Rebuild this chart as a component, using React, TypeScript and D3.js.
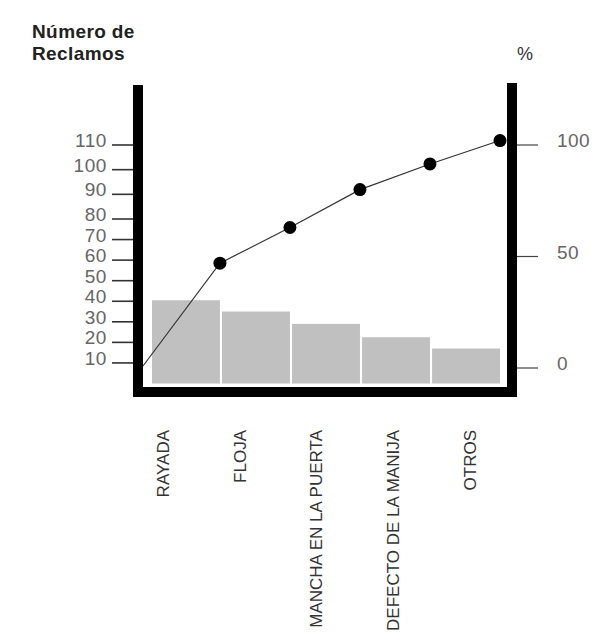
import React from "react";
import * as d3 from "d3";

const categories = ["RAYADA", "FLOJA", "MANCHA EN LA PUERTA", "DEFECTO DE LA MANIJA", "OTROS"];
const counts = [40.5, 35, 29, 22.5, 17];
const cumulativePct = [47, 63, 80, 91.5, 102];
const leftTicks = [10, 20, 30, 40, 50, 60, 70, 80, 90, 100, 110];
const rightTicks = [0, 50, 100];

const W = 603;
const H = 643;
const FONT = "'Liberation Sans', Arial, Helvetica, sans-serif";

export default function App() {
  // layout
  const leftAxisX = 133;
  const rightAxisX = 507;
  const axisW = 10;
  const frameBottom = 397;

  const yLeft = d3.scaleLinear().domain([0, 80, 110]).range([383.5, 219, 145]);
  const yRight = d3.scaleLinear().domain([0, 100]).range([368, 145]);
  const x = d3.scaleBand<string>().domain(categories).range([152, 500]).paddingInner(0.03).paddingOuter(0);
  const xLabel = d3.scalePoint<string>().domain(categories).range([163, 470]);

  const linePts: [number, number][] = [[leftAxisX + axisW, yRight(0) - 2]];
  categories.forEach((c, i) => {
    linePts.push([(x(c) as number) + x.bandwidth(), yRight(cumulativePct[i])]);
  });
  const line = d3.line();

  return (
    <svg
      width={W}
      height={H}
      viewBox={`0 0 ${W} ${H}`}
      style={{ position: "absolute", left: 0, top: 0, background: "#fff" }}
      fontFamily={FONT}
    >
      <rect x={0} y={0} width={W} height={H} fill="#fff" />
      {/* Title */}
      <text x={32} y={38} fontSize={19} fontWeight="bold" fill="#222" letterSpacing={0.4}>
        Número de
      </text>
      <text x={32} y={60} fontSize={19} fontWeight="bold" fill="#222" letterSpacing={0.4}>
        Reclamos
      </text>
      <text x={517} y={60} fontSize={18} fill="#333">
        %
      </text>

      {/* Bars */}
      {categories.map((c, i) => (
        <rect
          key={c}
          x={x(c)}
          y={yLeft(counts[i])}
          width={x.bandwidth()}
          height={yLeft(0) - yLeft(counts[i])}
          fill="#c0c0c0"
        />
      ))}

      {/* Cumulative line */}
      <path d={line(linePts) || ""} fill="none" stroke="#333" strokeWidth={1.2} />
      {linePts.slice(1).map((p, i) => (
        <circle key={i} cx={p[0]} cy={p[1]} r={6.5} fill="#000" />
      ))}

      {/* Frame */}
      <rect x={leftAxisX} y={85} width={axisW} height={frameBottom - 85} fill="#000" />
      <rect x={rightAxisX} y={83} width={axisW} height={frameBottom - 83} fill="#000" />
      <rect x={leftAxisX} y={frameBottom - axisW} width={rightAxisX + axisW - leftAxisX} height={axisW} fill="#000" />

      {/* Left ticks */}
      {leftTicks.map((t) => (
        <g key={t}>
          <line x1={112} x2={leftAxisX} y1={yLeft(t)} y2={yLeft(t)} stroke="#333" strokeWidth={1.6} />
          <text x={107} y={yLeft(t) + 2} textAnchor="end" fontSize={19} fill="#666" letterSpacing={0.6}>
            {t}
          </text>
        </g>
      ))}

      {/* Right ticks */}
      {rightTicks.map((t) => (
        <g key={t}>
          <line x1={rightAxisX + axisW} x2={538} y1={yRight(t)} y2={yRight(t)} stroke="#444" strokeWidth={1.2} />
          <text x={557} y={yRight(t) + 2} fontSize={19} fill="#666" letterSpacing={0.4}>
            {t}
          </text>
        </g>
      ))}

      {/* Category labels */}
      {categories.map((c) => (
        <text
          key={c}
          transform={`translate(${xLabel(c)},430) rotate(-90)`}
          textAnchor="end"
          dy="0.35em"
          fontSize={17}
          fill="#333"
        >
          {c}
        </text>
      ))}
    </svg>
  );
}
